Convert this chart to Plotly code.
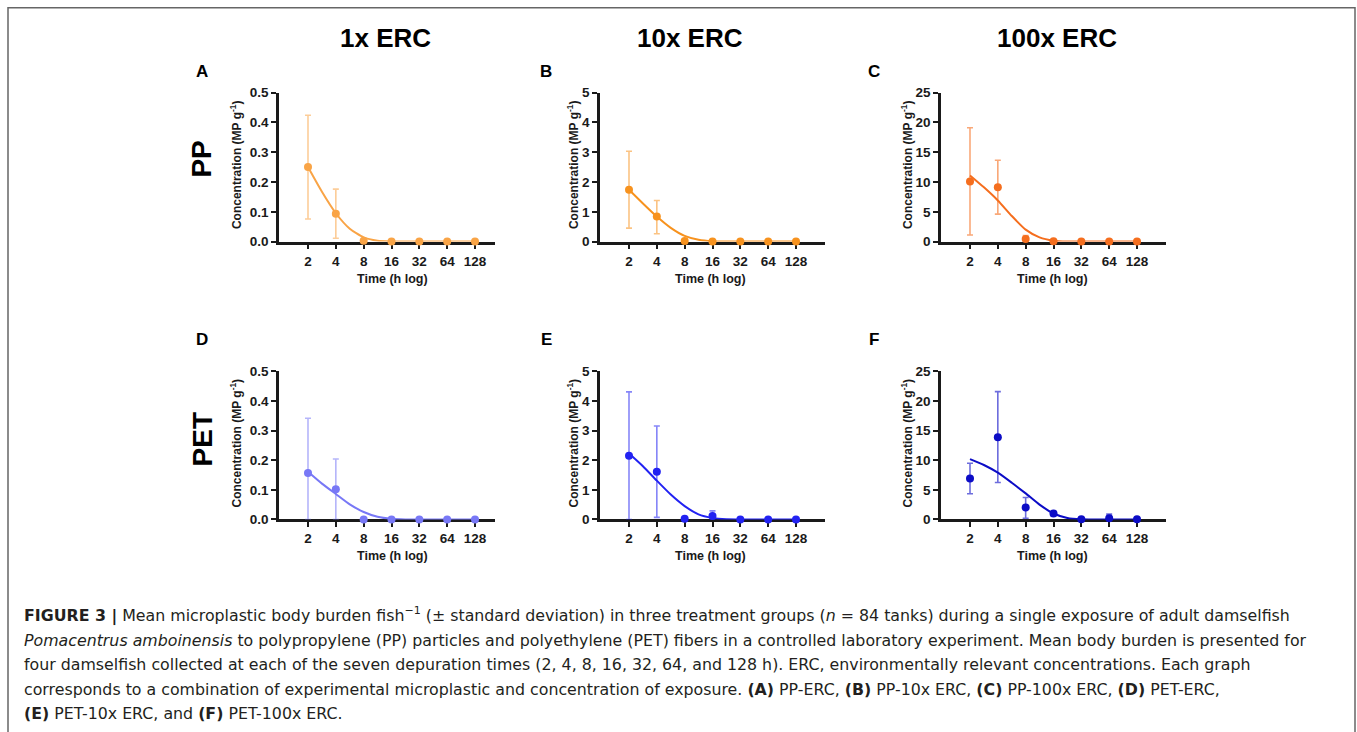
import plotly.graph_objects as go

W, H = 1357, 732

# ---------------- data ----------------
times = [2, 4, 8, 16, 32, 64, 128]
tick_labels = ["2", "4", "8", "16", "32", "64", "128"]

pp_1x_mean = [0.25, 0.093, 0.003, 0, 0, 0, 0]
pp_1x_up = [0.174, 0.083, 0, 0, 0, 0, 0]
pp_1x_down = [0.174, 0.082, 0, 0, 0, 0, 0]

pp_10x_mean = [1.74, 0.84, 0.02, 0, 0, 0, 0]
pp_10x_up = [1.29, 0.54, 0, 0, 0, 0, 0]
pp_10x_down = [1.29, 0.58, 0, 0, 0, 0, 0]

pp_100x_mean = [10.1, 9.1, 0.45, 0.05, 0, 0, 0]
pp_100x_up = [9.0, 4.55, 0.55, 0, 0, 0, 0]
pp_100x_down = [9.0, 4.5, 0.45, 0, 0, 0, 0]

pet_1x_mean = [0.157, 0.102, 0.0, 0, 0, 0, 0]
pet_1x_up = [0.185, 0.102, 0, 0, 0, 0, 0]
pet_1x_down = [0.157, 0.102, 0, 0, 0, 0, 0]

pet_10x_mean = [2.15, 1.61, 0.02, 0.12, 0, 0, 0]
pet_10x_up = [2.16, 1.55, 0, 0.17, 0, 0, 0]
pet_10x_down = [2.15, 1.54, 0, 0.12, 0, 0, 0]

pet_100x_mean = [6.93, 13.9, 2.03, 1.0, 0.05, 0.2, 0.05]
pet_100x_up = [2.57, 7.7, 1.67, 0.35, 0, 0.7, 0]
pet_100x_down = [2.59, 7.65, 1.83, 0.4, 0, 0.2, 0]

# fitted decay curves
fit_times = [2, 2.83, 4, 5.66, 8, 11.3, 16, 22.6, 32, 64, 128]
pp_1x_fit = [0.25, 0.167, 0.095, 0.043, 0.014, 0.003, 0.0005, 0, 0, 0, 0]
pp_10x_fit = [1.74, 1.28, 0.84, 0.46, 0.19, 0.06, 0.01, 0, 0, 0, 0]
pp_100x_fit = [11.1, 9.1, 6.9, 4.3, 2.0, 0.7, 0.15, 0.01, 0, 0, 0]
pet_1x_fit = [0.161, 0.121, 0.086, 0.051, 0.025, 0.009, 0.002, 0, 0, 0, 0]
pet_10x_fit = [2.23, 1.80, 1.31, 0.84, 0.45, 0.17, 0.05, 0.005, 0, 0, 0]
pet_100x_fit = [10.2, 9.2, 7.9, 6.2, 4.4, 2.5, 1.0, 0.25, 0.03, 0, 0]

y_ticks_small = [0.0, 0.1, 0.2, 0.3, 0.4, 0.5]
y_ticks_mid = [0, 1, 2, 3, 4, 5]
y_ticks_big = [0, 5, 10, 15, 20, 25]

col_titles = ["1x ERC", "10x ERC", "100x ERC"]
row_titles = ["PP", "PET"]
panel_letters = ["A", "B", "C", "D", "E", "F"]

# ---------------- layout helpers ----------------
VSCALE = 0.98  # compensation for slight vertical squeeze seen in rendering


def px(x):
    return x / W


def py(y):
    yy = H / 2 + (y - H / 2) / VSCALE
    return 1 - yy / H


FONT = "Arial, Liberation Sans, Helvetica, sans-serif"
TXT = "#1a1a1a"

col_x0 = [279, 600, 941]
col_x1 = [495, 825, 1166]
row_top = [93, 372]
row_bot = [242, 520]
log_per_px = 6 * 0.30103 / 167.0
x_start = 0.30103 - 29 * log_per_px

panels = [
    (pp_1x_mean, pp_1x_up, pp_1x_down, pp_1x_fit, "#F9A446", "rgba(249,164,70,0.55)", y_ticks_small, "{:.1f}"),
    (pp_10x_mean, pp_10x_up, pp_10x_down, pp_10x_fit, "#F7921E", "rgba(247,146,30,0.55)", y_ticks_mid, "{:d}"),
    (pp_100x_mean, pp_100x_up, pp_100x_down, pp_100x_fit, "#F56E1E", "rgba(245,110,30,0.6)", y_ticks_big, "{:d}"),
    (pet_1x_mean, pet_1x_up, pet_1x_down, pet_1x_fit, "#7878F6", "rgba(120,120,246,0.55)", y_ticks_small, "{:.1f}"),
    (pet_10x_mean, pet_10x_up, pet_10x_down, pet_10x_fit, "#2222F2", "rgba(34,34,242,0.55)", y_ticks_mid, "{:d}"),
    (pet_100x_mean, pet_100x_up, pet_100x_down, pet_100x_fit, "#0C0CC6", "rgba(12,12,198,0.6)", y_ticks_big, "{:d}"),
]

fig = go.Figure()
layout = {}
annotations = []

for i, (mean, up, down, fit, col, ecol, yt, fmt) in enumerate(panels):
    r, c = divmod(i, 3)
    n = "" if i == 0 else str(i + 1)
    xa, ya = "x" + n, "y" + n
    x1px = col_x1[c]
    x_end = x_start + (x1px - col_x0[c]) * log_per_px
    layout["xaxis" + n] = dict(
        domain=[px(col_x0[c]), px(x1px)], anchor=ya, type="log",
        range=[x_start, x_end], tickvals=times,
        ticktext=["<b>%s</b>" % t for t in tick_labels],
        showline=True, linewidth=2.5, linecolor=TXT, ticks="outside",
        ticklen=5, tickwidth=2, tickcolor=TXT, showgrid=False, zeroline=False,
        tickfont=dict(family=FONT, size=13.5, color=TXT), layer="below traces",
    )
    layout["yaxis" + n] = dict(
        domain=[py(row_bot[r]), py(row_top[r])], anchor=xa,
        range=[0, yt[-1]], tickvals=yt,
        ticktext=["<b>%s</b>" % fmt.format(v) for v in yt],
        showline=True, linewidth=2.5, linecolor=TXT, ticks="outside",
        ticklen=5, tickwidth=2, tickcolor=TXT, showgrid=False, zeroline=False,
        tickfont=dict(family=FONT, size=13.5, color=TXT), layer="below traces",
    )
    fig.add_trace(go.Scatter(
        x=fit_times, y=fit, mode="lines", xaxis=xa, yaxis=ya,
        line=dict(color=col, width=2, shape="spline", smoothing=0.6),
        cliponaxis=False, showlegend=False, hoverinfo="skip",
    ))
    fig.add_trace(go.Scatter(
        x=times, y=mean, mode="markers", xaxis=xa, yaxis=ya,
        marker=dict(color=col, size=8),
        error_y=dict(type="data", symmetric=False, array=up, arrayminus=down,
                     color=ecol, thickness=1.6, width=3),
        cliponaxis=False, showlegend=False,
    ))
    annotations.append(dict(
        x=px([392, 710, 1052][c]), y=py(row_bot[r] + 37), xref="paper", yref="paper",
        text="<b>Time (h log)</b>", showarrow=False,
        font=dict(family=FONT, size=12.5, color=TXT), xanchor="center", yanchor="middle",
    ))
    ytitle_x = [236, 573, 907][c]
    annotations.append(dict(
        x=px(ytitle_x), y=py((row_top[r] + row_bot[r]) / 2 - 2), xref="paper", yref="paper",
        text="<b>Concentration (MP g<sup>-1</sup>)</b>", showarrow=False, textangle=-90,
        font=dict(family=FONT, size=12, color=TXT), xanchor="center", yanchor="middle",
    ))
    lx = [202, 546, 874][c]
    ly = [72, 340][r]
    annotations.append(dict(
        x=px(lx), y=py(ly), xref="paper", yref="paper", text="<b>%s</b>" % panel_letters[i],
        showarrow=False, font=dict(family=FONT, size=17, color="black"),
        xanchor="center", yanchor="middle",
    ))

for c, t in enumerate(col_titles):
    annotations.append(dict(
        x=px([385, 690, 1057][c]), y=py(38), xref="paper", yref="paper",
        text="<b>%s</b>" % t, showarrow=False,
        font=dict(family=FONT, size=26, color="black"), xanchor="center", yanchor="middle",
    ))
for r, t in enumerate(row_titles):
    annotations.append(dict(
        x=px(202), y=py([160, 440][r]), xref="paper", yref="paper",
        text="<b>%s</b>" % t, showarrow=False, textangle=-90,
        font=dict(family=FONT, size=28, color="black"), xanchor="center", yanchor="middle",
    ))

caption_lines = [
    "<b>FIGURE 3 |</b> Mean microplastic body burden fish<sup>−1</sup> (± standard deviation) in three treatment groups (<i>n</i> = 84 tanks) during a single exposure of adult damselfish",
    "<i>Pomacentrus amboinensis</i> to polypropylene (PP) particles and polyethylene (PET) fibers in a controlled laboratory experiment. Mean body burden is presented for",
    "four damselfish collected at each of the seven depuration times (2, 4, 8, 16, 32, 64, and 128 h). ERC, environmentally relevant concentrations. Each graph",
    "corresponds to a combination of experimental microplastic and concentration of exposure. <b>(A)</b> PP-ERC, <b>(B)</b> PP-10x ERC, <b>(C)</b> PP-100x ERC, <b>(D)</b> PET-ERC,",
    "<b>(E)</b> PET-10x ERC, and <b>(F)</b> PET-100x ERC.",
]
cap_y = [616, 641, 665, 690, 714]
for t, yy in zip(caption_lines, cap_y):
    annotations.append(dict(
        x=px(22), y=py(yy), xref="paper", yref="paper", text=t, showarrow=False,
        font=dict(family="DejaVu Sans, sans-serif", size=15.8, color="#231F20"),
        xanchor="left", yanchor="middle",
    ))

shapes = [dict(
    type="rect", xref="paper", yref="paper", x0=px(8), x1=px(1355), y0=-0.05, y1=py(8),
    line=dict(color="#666666", width=1.5), fillcolor="rgba(0,0,0,0)", layer="below",
)]

fig.update_layout(
    width=W, height=H, margin=dict(l=0, r=0, t=0, b=0),
    paper_bgcolor="white", plot_bgcolor="white",
    annotations=annotations, shapes=shapes, showlegend=False,
    **layout,
)

page_fix = (
    "var de=document.documentElement, b=document.body;"
    "de.style.margin='0';de.style.padding='0';de.style.overflow='hidden';de.style.height='732px';"
    "b.style.margin='0';b.style.padding='0';b.style.overflow='hidden';b.style.height='732px';"
)

fig.write_html("out.html", config={"displayModeBar": False}, post_script=page_fix)
